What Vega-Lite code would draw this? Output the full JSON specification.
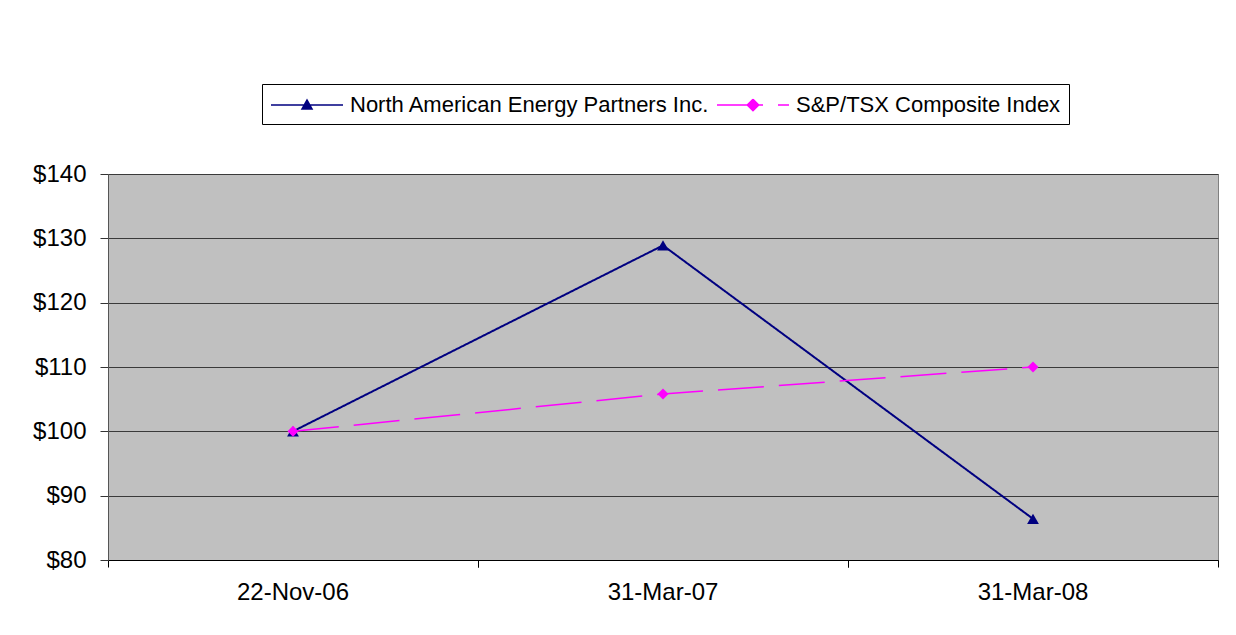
{
  "$schema": "https://vega.github.io/schema/vega-lite/v6.json",
  "width": 1110,
  "height": 386,
  "autosize": {"type": "none"},
  "padding": {"left": 108, "top": 174, "right": 18, "bottom": 75},
  "background": "white",
  "config": {
    "font": "Liberation Sans",
    "view": {"fill": "#C0C0C0", "stroke": "#808080", "strokeWidth": 1}
  },
  "data": {
    "values": [
      {"date": "22-Nov-06", "series": "North American Energy Partners Inc.", "value": 100},
      {"date": "31-Mar-07", "series": "North American Energy Partners Inc.", "value": 128.9},
      {"date": "31-Mar-08", "series": "North American Energy Partners Inc.", "value": 86.4},
      {"date": "22-Nov-06", "series": "S&P/TSX Composite Index", "value": 100},
      {"date": "31-Mar-07", "series": "S&P/TSX Composite Index", "value": 105.8},
      {"date": "31-Mar-08", "series": "S&P/TSX Composite Index", "value": 110}
    ]
  },
  "resolve": {"axis": {"x": "independent"}},
  "encoding": {
    "x": {
      "field": "date",
      "type": "ordinal",
      "sort": null,
      "scale": {"type": "band", "paddingInner": 0, "paddingOuter": 0}
    },
    "y": {
      "field": "value",
      "type": "quantitative",
      "scale": {"domain": [80, 140], "nice": false, "zero": false},
      "axis": {
        "title": null,
        "values": [80, 90, 100, 110, 120, 130, 140],
        "labelExpr": "'$' + datum.value",
        "labelFontSize": 24,
        "labelColor": "#000",
        "labelPadding": 14,
        "tickSize": 8,
        "tickColor": "#333",
        "domainColor": "#555",
        "grid": true,
        "gridColor": "#3a3a3a",
        "gridWidth": 1
      }
    }
  },
  "layer": [
    {
      "mark": {"type": "line"},
      "encoding": {
        "x": {
          "field": "date", "type": "ordinal", "sort": null,
          "axis": {
            "orient": "bottom",
            "title": null,
            "labelFontSize": 24,
            "labelColor": "#000",
            "labelPadding": 20,
            "labelAngle": 0,
            "ticks": false,
            "domainColor": "#000",
            "grid": false
          }
        },
        "color": {
          "field": "series",
          "type": "nominal",
          "scale": {
            "domain": ["North American Energy Partners Inc.", "S&P/TSX Composite Index"],
            "range": ["#000080", "#FF00FF"]
          },
          "legend": {
            "title": null,
            "orient": "none",
            "direction": "horizontal",
            "legendX": 154,
            "legendY": -90,
            "fillColor": "white",
            "strokeColor": "#000",
            "padding": 8,
            "labelFontSize": 22,
            "labelColor": "#000",
            "labelLimit": 600,
            "labelOffset": 54,
            "columnPadding": 4,
            "symbolSize": 576,
            "encode": {
              "symbols": {
                "update": {
                  "shape": {"signal": "datum.value === 'North American Energy Partners Inc.' ? 'M-1,0H5M2,-0.42L2.42,0.34L1.58,0.34Z' : 'M-1,0H5M2,-0.48L2.48,0L2,0.48L1.52,0Z'"},
                  "fill": {"signal": "datum.value === 'North American Energy Partners Inc.' ? '#000080' : '#FF00FF'"},
                  "stroke": {"signal": "datum.value === 'North American Energy Partners Inc.' ? '#000080' : '#FF00FF'"},
                  "strokeDash": {"signal": "datum.value === 'North American Energy Partners Inc.' ? [1,0] : [46,15]"},
                  "strokeWidth": {"value": 1.5},
                  "opacity": {"value": 1},
                  "fillOpacity": {"value": 1}
                }
              }
            }
          }
        },
        "strokeDash": {
          "field": "series",
          "type": "nominal",
          "scale": {
            "domain": ["North American Energy Partners Inc.", "S&P/TSX Composite Index"],
            "range": [[1, 0], [46, 15]]
          },
          "legend": null
        },
        "strokeWidth": {
          "condition": {"test": "datum.series === 'S&P/TSX Composite Index'", "value": 1.5},
          "value": 2
        }
      }
    },
    {
      "mark": {"type": "point", "filled": true, "opacity": 1},
      "encoding": {
        "x": {
          "field": "date", "type": "ordinal", "sort": null,
          "axis": {
            "orient": "bottom",
            "title": null,
            "bandPosition": 0,
            "labels": false,
            "ticks": true,
            "tickSize": 7,
            "tickColor": "#000",
            "domain": false,
            "grid": false
          }
        },
        "color": {"field": "series", "type": "nominal"},
        "shape": {
          "condition": {"test": "datum.series === 'S&P/TSX Composite Index'", "value": "diamond"},
          "value": "triangle-up"
        },
        "size": {
          "condition": {"test": "datum.series === 'S&P/TSX Composite Index'", "value": 120},
          "value": 140
        }
      }
    },
    {
      "mark": {"type": "point", "opacity": 0},
      "encoding": {
        "x": {
          "field": "date", "type": "ordinal", "sort": null,
          "axis": {
            "orient": "bottom",
            "title": null,
            "bandPosition": 1,
            "labels": false,
            "ticks": true,
            "tickSize": 7,
            "tickColor": "#000",
            "domain": false,
            "grid": false
          }
        }
      }
    }
  ]
}
